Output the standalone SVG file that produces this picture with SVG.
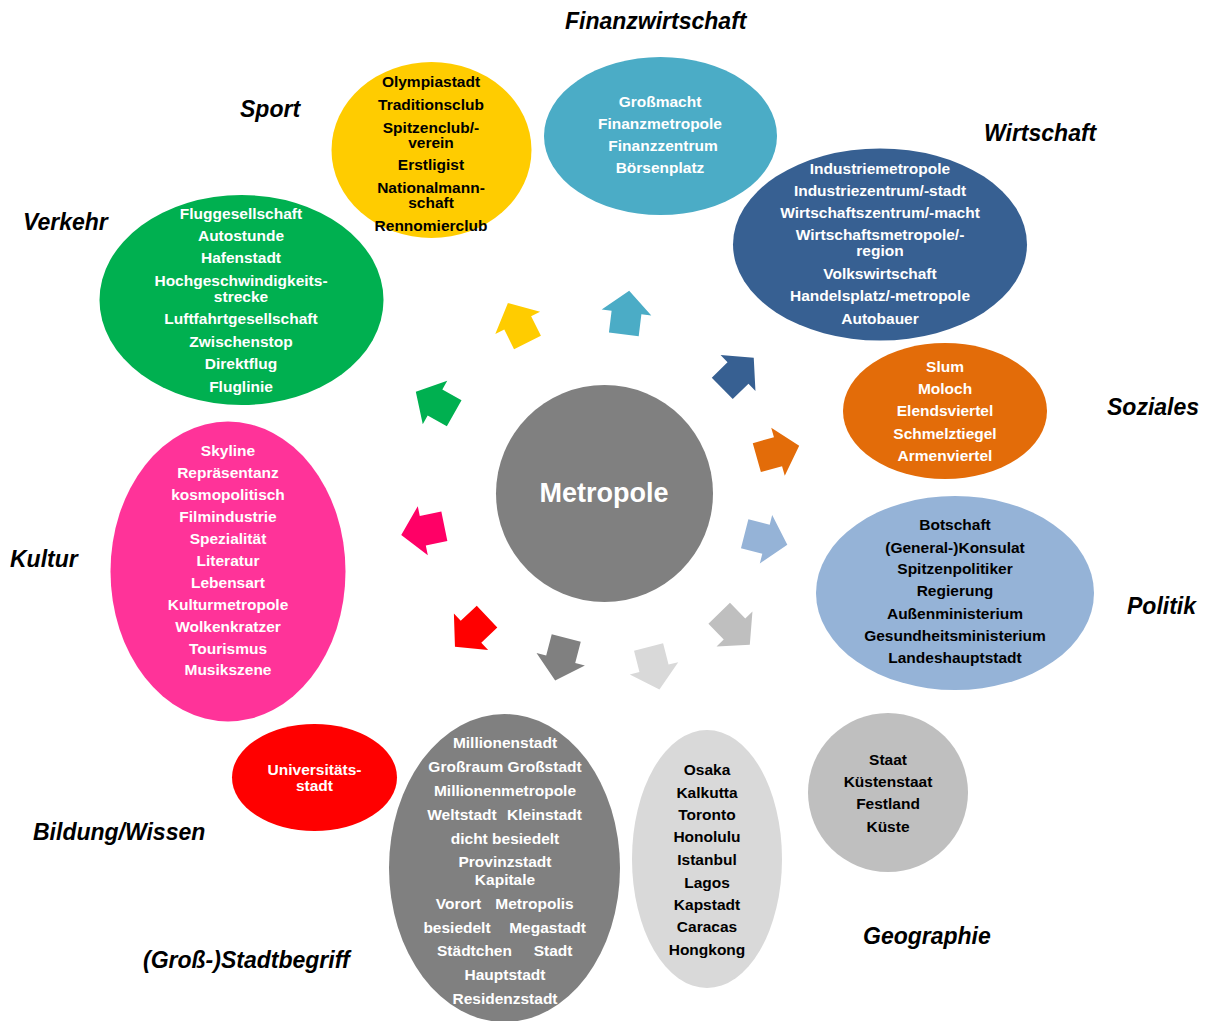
<svg xmlns="http://www.w3.org/2000/svg" width="1206" height="1021" viewBox="0 0 1206 1021">
  <style>
    text { font-family: "Liberation Sans", Arial, sans-serif; font-weight: bold; }
    .t { font-size: 15.5px; text-anchor: middle; }
    .w { fill: #ffffff; }
    .k { fill: #000000; }
    .cat { font-size: 23px; font-style: italic; fill: #000000; }
    .hub { font-size: 27px; fill: #ffffff; text-anchor: middle; }
  </style>
  <defs>
    <!-- block arrow pointing up, origin at the middle of the head base -->
    <path id="arr" d="M0,-22 L25,0 L15,0 L15,22 L-15,22 L-15,0 L-25,0 Z"/>
  </defs>
  <rect width="1206" height="1021" fill="#ffffff"/>

  <!-- centre -->
  <g id="metropole">
    <circle cx="604.5" cy="493.5" r="108.5" fill="#808080"/>
    <text class="hub" x="604" y="502">Metropole</text>
  </g>

  <!-- arrows pointing outward from the centre -->
  <g id="connectors">
    <use href="#arr" fill="#FFCC00" transform="translate(517.7,322.8) rotate(-26.4)"/>
    <use href="#arr" fill="#4BACC6" transform="translate(626.5,312.5) rotate(7)"/>
    <use href="#arr" fill="#376092" transform="translate(738,373) rotate(45.7)"/>
    <use href="#arr" fill="#E36C09" transform="translate(778,451.7) rotate(74.3)"/>
    <use href="#arr" fill="#95B3D7" transform="translate(766,539.2) rotate(104.3)"/>
    <use href="#arr" fill="#BFBFBF" transform="translate(734.5,629) rotate(135.9)"/>
    <use href="#arr" fill="#D9D9D9" transform="translate(654,668.3) rotate(165.7)"/>
    <use href="#arr" fill="#808080" transform="translate(560.7,659.2) rotate(194.6)"/>
    <use href="#arr" fill="#FF0000" transform="translate(471,631.7) rotate(226.8)"/>
    <use href="#arr" fill="#FF0066" transform="translate(422.8,530.7) rotate(258.4)"/>
    <use href="#arr" fill="#00B050" transform="translate(435,402.5) rotate(-60.7)"/>
  </g>

  <!-- Sport -->
  <g id="sport">
    <ellipse cx="431.5" cy="150" rx="100" ry="88" fill="#FFCC00"/>
    <g class="t k">
      <text x="431" y="87">Olympiastadt</text>
      <text x="431" y="110">Traditionsclub</text>
      <text x="431" y="132.5">Spitzenclub/-</text>
      <text x="431" y="148">verein</text>
      <text x="431" y="170">Erstligist</text>
      <text x="431" y="192.5">Nationalmann-</text>
      <text x="431" y="208">schaft</text>
      <text x="431" y="230.5">Rennomierclub</text>
    </g>
    <text class="cat" x="240" y="117">Sport</text>
  </g>

  <!-- Finanzwirtschaft -->
  <g id="finanz">
    <ellipse cx="660.5" cy="136" rx="116.5" ry="79" fill="#4BACC6"/>
    <g class="t w">
      <text x="660" y="107">Großmacht</text>
      <text x="660" y="129">Finanzmetropole</text>
      <text x="663" y="151">Finanzzentrum</text>
      <text x="660" y="173">Börsenplatz</text>
    </g>
    <text class="cat" x="565" y="29">Finanzwirtschaft</text>
  </g>

  <!-- Wirtschaft -->
  <g id="wirtschaft">
    <ellipse cx="880" cy="244.5" rx="147" ry="96" fill="#376092"/>
    <g class="t w">
      <text x="880" y="174">Industriemetropole</text>
      <text x="880" y="196">Industriezentrum/-stadt</text>
      <text x="880" y="218">Wirtschaftszentrum/-macht</text>
      <text x="880" y="240">Wirtschaftsmetropole/-</text>
      <text x="880" y="256">region</text>
      <text x="880" y="279">Volkswirtschaft</text>
      <text x="880" y="301">Handelsplatz/-metropole</text>
      <text x="880" y="323.5">Autobauer</text>
    </g>
    <text class="cat" x="984" y="141">Wirtschaft</text>
  </g>

  <!-- Soziales -->
  <g id="soziales">
    <ellipse cx="945" cy="411" rx="102" ry="68" fill="#E36C09"/>
    <g class="t w">
      <text x="945" y="372">Slum</text>
      <text x="945" y="394">Moloch</text>
      <text x="945" y="416">Elendsviertel</text>
      <text x="945" y="439">Schmelztiegel</text>
      <text x="945" y="461">Armenviertel</text>
    </g>
    <text class="cat" x="1107" y="415">Soziales</text>
  </g>

  <!-- Politik -->
  <g id="politik">
    <ellipse cx="955" cy="593" rx="139" ry="97" fill="#95B3D7"/>
    <g class="t k">
      <text x="955" y="530">Botschaft</text>
      <text x="955" y="552.5">(General-)Konsulat</text>
      <text x="955" y="574">Spitzenpolitiker</text>
      <text x="955" y="596">Regierung</text>
      <text x="955" y="619">Außenministerium</text>
      <text x="955" y="641">Gesundheitsministerium</text>
      <text x="955" y="663">Landeshauptstadt</text>
    </g>
    <text class="cat" x="1127" y="614">Politik</text>
  </g>

  <!-- Geographie -->
  <g id="geographie">
    <ellipse cx="888" cy="792.5" rx="80" ry="79.5" fill="#BFBFBF"/>
    <g class="t k">
      <text x="888" y="765">Staat</text>
      <text x="888" y="787">Küstenstaat</text>
      <text x="888" y="809">Festland</text>
      <text x="888" y="831.5">Küste</text>
    </g>
    <text class="cat" x="863" y="944">Geographie</text>
  </g>

  <!-- Städte -->
  <g id="staedte">
    <ellipse cx="707" cy="859" rx="75" ry="129" fill="#D9D9D9"/>
    <g class="t k">
      <text x="707" y="775">Osaka</text>
      <text x="707" y="797.5">Kalkutta</text>
      <text x="707" y="819.5">Toronto</text>
      <text x="707" y="842">Honolulu</text>
      <text x="707" y="865">Istanbul</text>
      <text x="707" y="887.5">Lagos</text>
      <text x="707" y="909.5">Kapstadt</text>
      <text x="707" y="932">Caracas</text>
      <text x="707" y="954.5">Hongkong</text>
    </g>
  </g>

  <!-- (Groß-)Stadtbegriff -->
  <g id="stadtbegriff">
    <ellipse cx="504.5" cy="868" rx="115.5" ry="154" fill="#808080"/>
    <g class="t w">
      <text x="505" y="748">Millionenstadt</text>
      <text x="505" y="772">Großraum Großstadt</text>
      <text x="505" y="796">Millionenmetropole</text>
      <text x="462" y="820">Weltstadt</text>
      <text x="544.5" y="820">Kleinstadt</text>
      <text x="505" y="843.5">dicht besiedelt</text>
      <text x="505" y="867">Provinzstadt</text>
      <text x="505" y="885">Kapitale</text>
      <text x="458.5" y="909">Vorort</text>
      <text x="534.5" y="909">Metropolis</text>
      <text x="457" y="932.5">besiedelt</text>
      <text x="547.5" y="932.5">Megastadt</text>
      <text x="474.5" y="956">Städtchen</text>
      <text x="553" y="956">Stadt</text>
      <text x="505" y="979.5">Hauptstadt</text>
      <text x="505" y="1003.5">Residenzstadt</text>
    </g>
    <text class="cat" x="143" y="968">(Groß-)Stadtbegriff</text>
  </g>

  <!-- Bildung/Wissen -->
  <g id="bildung">
    <ellipse cx="314.5" cy="777.5" rx="82.5" ry="53.5" fill="#FF0000"/>
    <g class="t w">
      <text x="314.5" y="775">Universitäts-</text>
      <text x="314.5" y="791">stadt</text>
    </g>
    <text class="cat" x="33" y="840">Bildung/Wissen</text>
  </g>

  <!-- Kultur -->
  <g id="kultur">
    <ellipse cx="228" cy="571.5" rx="117.5" ry="150" fill="#FF3399"/>
    <g class="t w">
      <text x="228" y="456">Skyline</text>
      <text x="228" y="478">Repräsentanz</text>
      <text x="228" y="500">kosmopolitisch</text>
      <text x="228" y="521.5">Filmindustrie</text>
      <text x="228" y="543.5">Spezialität</text>
      <text x="228" y="566">Literatur</text>
      <text x="228" y="587.5">Lebensart</text>
      <text x="228" y="610">Kulturmetropole</text>
      <text x="228" y="632">Wolkenkratzer</text>
      <text x="228" y="653.5">Tourismus</text>
      <text x="228" y="675">Musikszene</text>
    </g>
    <text class="cat" x="10" y="567">Kultur</text>
  </g>

  <!-- Verkehr -->
  <g id="verkehr">
    <ellipse cx="241.5" cy="300" rx="142" ry="105" fill="#00B050"/>
    <g class="t w">
      <text x="241" y="218.5">Fluggesellschaft</text>
      <text x="241" y="241">Autostunde</text>
      <text x="241" y="263">Hafenstadt</text>
      <text x="241" y="286">Hochgeschwindigkeits-</text>
      <text x="241" y="301.5">strecke</text>
      <text x="241" y="323.5">Luftfahrtgesellschaft</text>
      <text x="241" y="347">Zwischenstop</text>
      <text x="241" y="369">Direktflug</text>
      <text x="241" y="391.5">Fluglinie</text>
    </g>
    <text class="cat" x="23" y="229.5">Verkehr</text>
  </g>
</svg>
